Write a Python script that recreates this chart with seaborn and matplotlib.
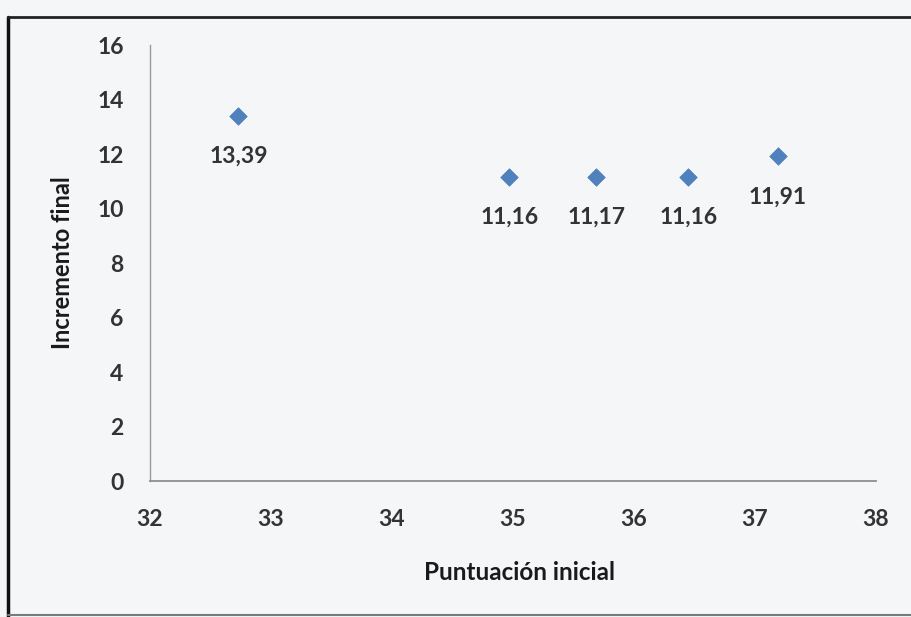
import matplotlib
matplotlib.use("Agg")
import matplotlib.pyplot as plt
import seaborn as sns
import pandas as pd
from matplotlib.lines import Line2D

puntuacion = [32.73, 34.97, 35.69, 36.45, 37.19]
incremento = [13.39, 11.16, 11.17, 11.16, 11.91]
etiquetas = ["13,39", "11,16", "11,17", "11,16", "11,91"]
x_ticks = [32, 33, 34, 35, 36, 37, 38]
y_ticks = [0, 2, 4, 6, 8, 10, 12, 14, 16]

sns.set_theme(style="white")
plt.rcParams['font.family'] = ['Lato', 'DejaVu Sans']

df = pd.DataFrame({"x": puntuacion, "y": incremento})

bg = "#f5f6f8"
txt = "#333333"
fs = 16.5
fig = plt.figure(figsize=(9.12, 6.17), dpi=100, facecolor=bg)
ax = fig.add_axes([0.1645, 0.2204, 0.796, 0.7066])
ax.set_facecolor(bg)

sns.scatterplot(data=df, x="x", y="y", ax=ax, marker="D", s=80,
                color="#4F81BD", edgecolor="#4F81BD", linewidth=0.5, zorder=3)

for xv, yv, lab in zip(puntuacion, incremento, etiquetas):
    ax.annotate(lab, (xv, yv), xytext=(0, -29), textcoords="offset points",
                ha="center", va="center", fontsize=fs, fontweight="bold", color=txt)

ax.set_xlim(32, 38)
ax.set_ylim(0, 16)
ax.set_xticks(x_ticks)
ax.set_yticks(y_ticks)
ax.set_xticklabels([str(t) for t in x_ticks], fontsize=fs, fontweight="bold", color=txt)
ax.set_yticklabels([str(t) for t in y_ticks], fontsize=fs, fontweight="bold", color=txt)
ax.tick_params(axis="x", length=0, pad=20)
ax.tick_params(axis="y", length=0, pad=19)

for s in ["top", "right"]:
    ax.spines[s].set_visible(False)
ax.spines["left"].set_color("#9a9a9a")
ax.spines["bottom"].set_color("#8a9090")
ax.spines["left"].set_linewidth(1.0)
ax.spines["bottom"].set_linewidth(1.3)

ax.set_xlabel("Puntuación inicial", fontsize=17.5, fontweight="bold", color="#1a1a1a")
ax.set_ylabel("Incremento final", fontsize=17, fontweight="bold", color="#1a1a1a")
ax.xaxis.set_label_coords(0.709 - 0.2, -0.209)
ax.yaxis.set_label_coords(-0.12, 0.5)
ax.xaxis.label.set_va("center")
ax.yaxis.label.set_va("center")

# outer frame of the chart area
fig.add_artist(Line2D([8/912, 8/912], [0, 1 - 17/617], transform=fig.transFigure, color="#111111", linewidth=2.5))
fig.add_artist(Line2D([8/912, 1], [1 - 17/617, 1 - 17/617], transform=fig.transFigure, color="#222222", linewidth=2.0))
fig.add_artist(Line2D([8/912, 1], [2/617, 2/617], transform=fig.transFigure, color="#6f7f7a", linewidth=1.5))

fig.savefig("out.png", dpi=100, facecolor=bg)
